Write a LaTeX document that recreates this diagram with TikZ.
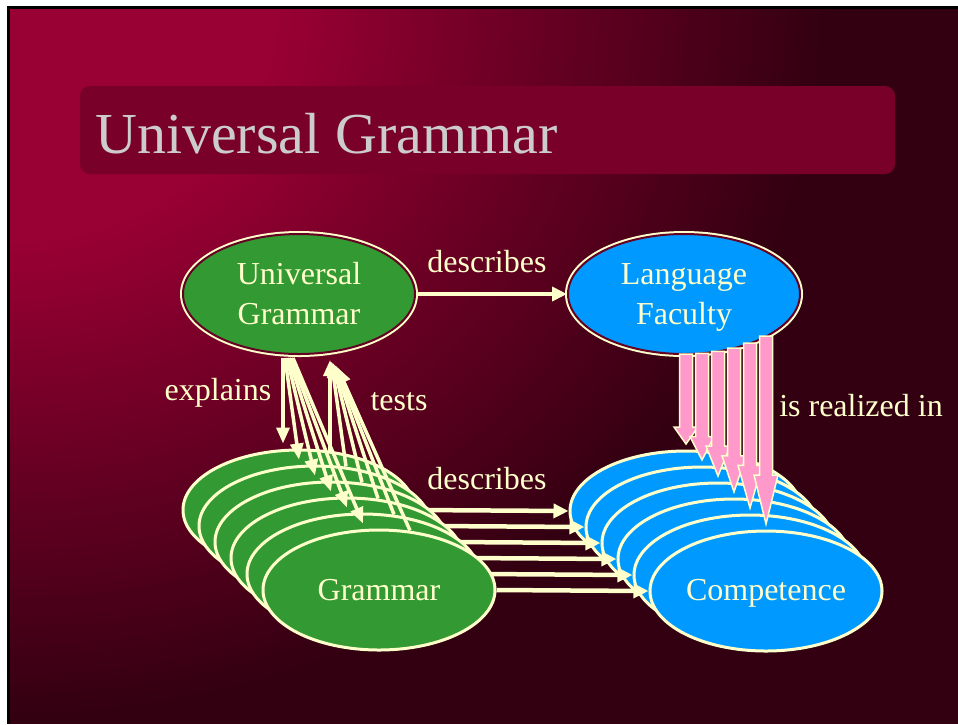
\documentclass[tikz,border=0pt]{standalone}
\usepackage{fontspec}
\setmainfont{Liberation Serif}
\usetikzlibrary{shapes.geometric,arrows.meta,calc}

\definecolor{bgred}{HTML}{990033}
\definecolor{bgdark}{HTML}{330011}
\definecolor{titlebox}{HTML}{780029}
\definecolor{titletext}{HTML}{CCCCCC}
\definecolor{cream}{HTML}{FFFFCC}
\definecolor{rim}{HTML}{660022}
\definecolor{leaf}{HTML}{339933}
\definecolor{sky}{HTML}{0099FF}
\definecolor{rose}{HTML}{FF99CC}

\tikzset{
  blob/.style={ellipse, minimum width=232pt, minimum height=120pt, inner sep=0pt,
    text=cream, align=center, font=\fontsize{32}{40}\selectfont},
  rimmed/.style={blob, draw=rim, line width=2pt, preaction={draw=cream, line width=6pt}},
  stacked/.style={blob, draw=cream, line width=3pt},
  lbl/.style={anchor=base, text=cream, font=\fontsize{32}{40}\selectfont},
  link/.style={draw=cream, line width=4.5pt, -{Triangle[length=15pt,width=14pt]}},
  fan/.style={draw=cream, line width=3.5pt, -{Triangle[length=16pt,width=13pt]}},
  fat/.style={fill=rose, draw=cream, line width=1.5pt, line join=miter},
}

\begin{document}
\begin{tikzpicture}[x=1pt,y=-1pt]
  % slide frame and background
  \useasboundingbox (0,0) rectangle (958,724);
  \fill[white] (0,0) rectangle (958,724);
  \fill[black] (7,6) rectangle (958,724);
  \fill[bgdark] (10,9) rectangle (958,724);
  \begin{scope}
    \clip (10,9) rectangle (958,724);
    \foreach \k in {0,...,50} {
      \pgfmathsetmacro\rr{820-11*\k}
      \pgfmathtruncatemacro\pp{2*\k}
      \fill[bgred!\pp!bgdark] (10,9) ellipse [x radius=\rr, y radius=0.87*\rr];
    }
  \end{scope}
  \fill[titlebox, rounded corners=10pt] (80,86) rectangle (895,174);
  \node[anchor=base west, inner sep=0pt, text=titletext,
        font=\fontsize{58}{66}\selectfont] (title) at (95,153) {Universal Grammar};

  % top pair
  \node[rimmed, fill=leaf] (ug) at (299,294) {Universal\\Grammar};
  \node[rimmed, fill=sky] (lf) at (684,294) {Language\\\raisebox{0pt}[\height][0pt]{Faculty}};

  % stacks, each describes arrow hidden by the next grammar
  \foreach \i in {1,...,6} {
    \node[stacked, fill=sky] (comp\i) at ({686+16*(\i-1)},{511+16*(\i-1)}) {};
  }
  \node[blob] (comptext) at ($(comp6)+(0,2)$) {Competence};
  \foreach \i in {1,...,6} {
    \node[stacked, fill=leaf] (gram\i) at ({299+16*(\i-1)},{510+16*(\i-1)}) {};
    \draw[link] (gram\i.east) -- (comp\i.west);
  }
  \node[blob] (gramtext) at (gram6) {Grammar};

  % describes
  \draw[link, line width=4pt] (ug.east) -- (lf.west);

  % explains and tests
  \foreach \i in {1,...,6} {
    \draw[fan] ($(ug.south)+(-18+2*\i,3)$) -- ($(gram\i.north)+(-16,-5)$);
    \draw[fan] ($(gram\i.north)+(31,2)$) -- ($(ug.south)+(29.5+1.5*\i,3.5+1.5*\i)$);
  }

  % is realized in
  \foreach \i in {1,...,6} {
    \pgfmathsetmacro\ax{686+16*(\i-1)}
    \pgfmathsetmacro\ys{294+60*sqrt(1-((\ax-684)/115)^2)}
    \pgfmathsetmacro\by{427+9.6*(\i-1)}
    \pgfmathsetmacro\ty{444+16*(\i-1)}
    \draw[fat] (\ax-6.5,\ys) -- (\ax-6.5,\by) -- (\ax-12,\by) -- (\ax,\ty)
      -- (\ax+12,\by) -- (\ax+6.5,\by) -- (\ax+6.5,\ys) -- cycle;
  }

  % labels
  \node[lbl] (ldesc) at (487,272) {describes};
  \node[lbl] (ldesc2) at (487,489) {describes};
  \node[lbl] (lexpl) at (218,400) {explains};
  \node[lbl] (ltest) at (399,410) {tests};
  \node[lbl] (lreal) at (861,416) {is realized in};
\end{tikzpicture}
\end{document}
